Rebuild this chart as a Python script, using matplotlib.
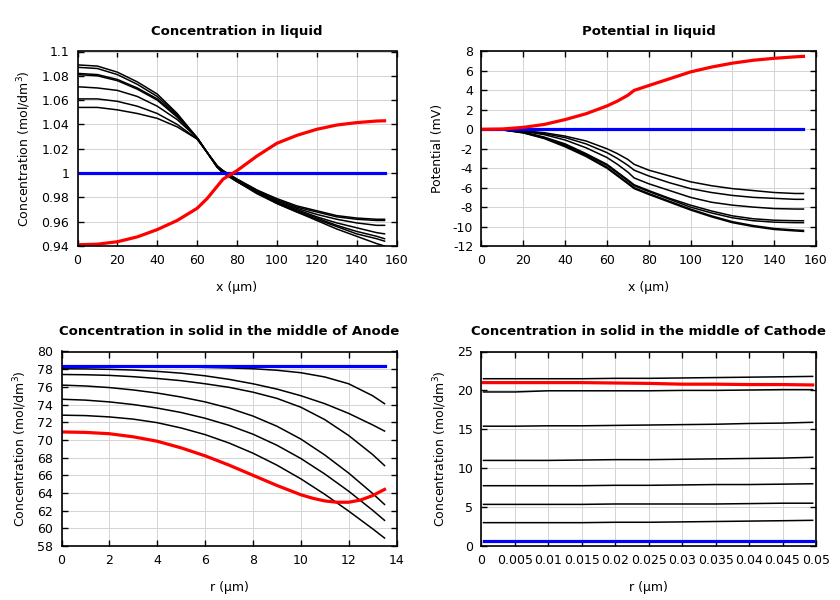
import matplotlib
matplotlib.use("Agg")
import matplotlib.pyplot as plt
from matplotlib.ticker import FormatStrFormatter
import numpy as np

# --- Concentration in liquid ---
liq_x = [0, 10, 20, 30, 40, 50, 60, 65, 70, 73, 80, 90, 100, 110, 120, 130, 140, 150, 154]
liq_red = [0.941, 0.9415, 0.9435, 0.9475, 0.9535, 0.961, 0.971, 0.979, 0.989, 0.995, 1.002,
           1.014, 1.0245, 1.031, 1.036, 1.0395, 1.0415, 1.0428, 1.043]
liq_blue = [1.0] * len(liq_x)
liq_black = [
    [1.089, 1.088, 1.083, 1.075, 1.065, 1.049, 1.029, 1.017, 1.005, 1.000, 0.993, 0.983, 0.975, 0.968, 0.961, 0.954, 0.948, 0.942, 0.940],
    [1.087, 1.086, 1.081, 1.073, 1.063, 1.048, 1.029, 1.017, 1.005, 1.000, 0.993, 0.984, 0.975, 0.968, 0.962, 0.956, 0.950, 0.946, 0.944],
    [1.082, 1.081, 1.077, 1.070, 1.061, 1.047, 1.029, 1.017, 1.005, 1.001, 0.993, 0.984, 0.976, 0.969, 0.963, 0.957, 0.952, 0.948, 0.946],
    [1.081, 1.080, 1.076, 1.069, 1.060, 1.046, 1.029, 1.017, 1.005, 1.001, 0.994, 0.984, 0.976, 0.970, 0.964, 0.959, 0.955, 0.951, 0.950],
    [1.071, 1.070, 1.068, 1.063, 1.055, 1.044, 1.029, 1.017, 1.006, 1.001, 0.994, 0.985, 0.977, 0.971, 0.966, 0.962, 0.959, 0.957, 0.957],
    [1.061, 1.061, 1.059, 1.055, 1.049, 1.040, 1.028, 1.017, 1.006, 1.002, 0.995, 0.986, 0.978, 0.972, 0.968, 0.964, 0.962, 0.961, 0.961],
    [1.054, 1.054, 1.052, 1.049, 1.045, 1.038, 1.028, 1.017, 1.006, 1.002, 0.995, 0.986, 0.979, 0.973, 0.969, 0.965, 0.963, 0.962, 0.962],
]

# --- Potential in liquid ---
pot_x = [0, 10, 20, 30, 40, 50, 60, 65, 70, 73, 80, 90, 100, 110, 120, 130, 140, 150, 154]
pot_red = [0, 0.03, 0.2, 0.5, 1.0, 1.6, 2.4, 2.9, 3.5, 4.0, 4.5, 5.2, 5.9, 6.4, 6.8, 7.1, 7.3, 7.45, 7.5]
pot_blue = [0.0] * len(pot_x)
pot_black = [
    [0, -0.02, -0.15, -0.35, -0.7, -1.2, -2.0, -2.5, -3.1, -3.6, -4.2, -4.8, -5.4, -5.8, -6.1, -6.3, -6.5, -6.6, -6.6],
    [0, -0.03, -0.18, -0.45, -0.85, -1.5, -2.4, -3.0, -3.7, -4.2, -4.8, -5.5, -6.1, -6.5, -6.8, -7.0, -7.1, -7.2, -7.2],
    [0, -0.04, -0.22, -0.55, -1.1, -1.9, -2.9, -3.6, -4.4, -5.0, -5.6, -6.3, -7.0, -7.5, -7.8, -8.0, -8.15, -8.2, -8.2],
    [0, -0.05, -0.3, -0.8, -1.5, -2.5, -3.6, -4.4, -5.2, -5.7, -6.3, -7.1, -7.8, -8.4, -8.9, -9.2, -9.35, -9.4, -9.4],
    [0, -0.05, -0.3, -0.85, -1.6, -2.6, -3.7, -4.5, -5.3, -5.8, -6.4, -7.2, -8.0, -8.6, -9.1, -9.4, -9.55, -9.6, -9.6],
    [0, -0.06, -0.35, -0.9, -1.7, -2.7, -3.9, -4.7, -5.5, -6.0, -6.6, -7.4, -8.2, -8.9, -9.5, -9.9, -10.2, -10.35, -10.4],
    [0, -0.06, -0.37, -0.95, -1.8, -2.8, -4.0, -4.8, -5.6, -6.1, -6.7, -7.5, -8.3, -9.0, -9.6, -10.0, -10.3, -10.45, -10.5],
]

# --- Anode solid ---
an_x = [0, 1, 2, 3, 4, 5, 6, 7, 8, 9, 10, 11, 12, 13, 13.5]
an_black = [
    [78.35, 78.35, 78.35, 78.33, 78.3, 78.26, 78.2, 78.14, 78.05, 77.88, 77.6, 77.12, 76.35, 75.0, 74.1],
    [78.05, 78.03, 77.98, 77.9, 77.75, 77.55, 77.25, 76.85, 76.35, 75.75, 75.0, 74.1, 73.0, 71.7, 71.0],
    [77.4, 77.37, 77.3, 77.15, 76.95, 76.7, 76.35, 75.95, 75.4, 74.7, 73.7, 72.3, 70.5, 68.35, 67.1],
    [76.2, 76.1, 75.92, 75.65, 75.3, 74.85, 74.3, 73.6, 72.7, 71.55, 70.1, 68.3, 66.25, 63.95, 62.7],
    [74.6, 74.5, 74.3, 74.0, 73.6, 73.1, 72.45, 71.65, 70.65, 69.4, 67.9, 66.15, 64.2, 62.05, 60.9],
    [72.8, 72.75, 72.6, 72.35, 71.95, 71.35, 70.6, 69.65, 68.5, 67.15, 65.6, 63.85, 61.95, 59.95, 58.9],
]
an_red_x = [0, 1, 2, 3, 4, 5, 6, 7, 8, 9, 10, 10.5, 11, 11.5, 12, 12.5, 13, 13.5]
an_red = [70.9, 70.85, 70.7, 70.35, 69.85, 69.1, 68.2, 67.15, 66.0, 64.85, 63.8, 63.4,
          63.1, 62.95, 62.95, 63.2, 63.7, 64.4]
an_blue_x = [0, 13.5]
an_blue = [78.4, 78.4]

# --- Cathode solid ---
ca_x = [0.0003, 0.005, 0.01, 0.015, 0.02, 0.025, 0.03, 0.035, 0.04, 0.045, 0.0495]
ca_red = [21.0, 21.0, 21.0, 21.0, 20.95, 20.9, 20.8, 20.8, 20.75, 20.75, 20.7]
ca_blue = [0.7] * len(ca_x)
ca_black = [
    [21.5, 21.5, 21.5, 21.5, 21.55, 21.55, 21.6, 21.65, 21.7, 21.75, 21.8],
    [19.8, 19.8, 19.95, 19.95, 19.95, 19.95, 20.0, 20.0, 20.05, 20.1, 20.1],
    [15.4, 15.4, 15.45, 15.45, 15.5, 15.55, 15.6, 15.65, 15.75, 15.8, 15.9],
    [11.0, 11.0, 11.0, 11.05, 11.1, 11.1, 11.15, 11.2, 11.25, 11.3, 11.4],
    [7.75, 7.75, 7.75, 7.75, 7.8, 7.8, 7.85, 7.9, 7.9, 7.95, 8.0],
    [5.35, 5.35, 5.35, 5.35, 5.4, 5.4, 5.4, 5.4, 5.45, 5.5, 5.5],
    [3.0, 3.0, 3.0, 3.0, 3.05, 3.05, 3.1, 3.15, 3.2, 3.25, 3.3],
]

plt.rcParams['font.family'] = ['DejaVu Sans']
plt.rcParams['font.size'] = 9

fig = plt.figure(figsize=(8.4, 6), dpi=100)
W, H = 840.0, 600.0


def make_axes(l, r, t, b):
    return fig.add_axes([l / W, 1 - b / H, (r - l) / W, (b - t) / H])


def style(ax, title, xlabel, ylabel, xlim, ylim, xticks, yticks):
    ax.set_xlim(*xlim)
    ax.set_ylim(*ylim)
    ax.set_xticks(xticks)
    ax.set_yticks(yticks)
    ax.xaxis.set_major_formatter(FormatStrFormatter('%g'))
    ax.yaxis.set_major_formatter(FormatStrFormatter('%g'))
    ax.grid(True, color='#d4d4d4', lw=0.7)
    ax.set_axisbelow(True)
    ax.tick_params(direction='in', top=True, right=True, length=4, width=1,
                   labelsize=9, pad=6)
    for s in ax.spines.values():
        s.set_linewidth(1.2)
    ax.set_title(title, fontsize=9.5, fontweight='bold', pad=12)
    ax.set_xlabel(xlabel, fontsize=9, labelpad=10)
    ax.set_ylabel(ylabel, fontsize=9, labelpad=6)


conc_label = r'Concentration (mol/dm$^3$)'

ax1 = make_axes(77.5, 396.5, 51.5, 246)
for c in liq_black:
    ax1.plot(liq_x, c, color='black', lw=1.1)
ax1.plot(liq_x, liq_blue, color='blue', lw=2.3)
ax1.plot(liq_x, liq_red, color='red', lw=2.3)
style(ax1, 'Concentration in liquid', 'x (µm)', conc_label,
      (0, 160), (0.94, 1.1), np.arange(0, 161, 20), np.arange(0.94, 1.101, 0.02))

ax2 = make_axes(481.5, 816, 51.5, 246)
for c in pot_black:
    ax2.plot(pot_x, c, color='black', lw=1.1)
ax2.plot(pot_x, pot_blue, color='blue', lw=2.3)
ax2.plot(pot_x, pot_red, color='red', lw=2.3)
style(ax2, 'Potential in liquid', 'x (µm)', 'Potential (mV)',
      (0, 160), (-12, 8), np.arange(0, 161, 20), np.arange(-12, 9, 2))

ax3 = make_axes(61.5, 396.5, 351.5, 546)
for c in an_black:
    ax3.plot(an_x, c, color='black', lw=1.1)
ax3.plot(an_blue_x, an_blue, color='blue', lw=2.3)
ax3.plot(an_red_x, an_red, color='red', lw=2.3)
style(ax3, 'Concentration in solid in the middle of Anode', 'r (µm)', conc_label,
      (0, 14), (58, 80), np.arange(0, 15, 2), np.arange(58, 81, 2))

ax4 = make_axes(481.5, 816, 351.5, 546)
for c in ca_black:
    ax4.plot(ca_x, c, color='black', lw=1.1)
ax4.plot(ca_x, ca_blue, color='blue', lw=2.3)
ax4.plot(ca_x, ca_red, color='red', lw=2.3)
style(ax4, 'Concentration in solid in the middle of Cathode', 'r (µm)', conc_label,
      (0, 0.05), (0, 25), np.arange(0, 0.0501, 0.005), np.arange(0, 26, 5))

fig.savefig('out.png', dpi=100)
